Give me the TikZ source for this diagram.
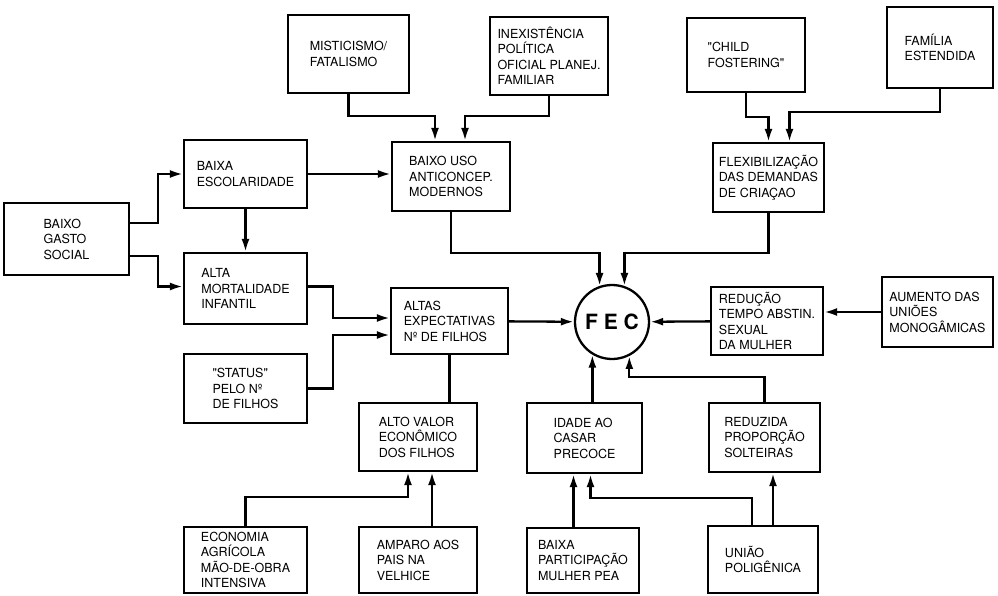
\documentclass[tikz,border=0pt]{standalone}
\usepackage{fontspec}
\setmainfont{TeX Gyre Heros}
\usepackage{tikz}
\usetikzlibrary{arrows.meta,%
                shapes,positioning}
\tikzset{caixa/.style 2 args={draw,minimum width=#1,minimum height=#2,align=left,inner sep=4pt,
    font=\fontsize{12.5}{15.5}\selectfont},
  seta/.style={-{Latex[length=13pt,width=8pt]}}}

\begin{document}
\begin{tikzpicture}[x=1pt,y=-1pt,line width=2.3pt]
\useasboundingbox (0,0) rectangle (998,596);
% linha de cima
\node[caixa={121}{78}] (mistic) at (348.5,54) {MISTICISMO/\\FATALISMO};
\node[caixa={118}{78}] (inexist) at (549,56) {INEXISTÊNCIA\\POLÍTICA\\OFICIAL PLANEJ.\\FAMILIAR};
\node[caixa={118}{74}] (child) at (746,55) {\textquotedbl CHILD\\FOSTERING\textquotedbl};
\node[caixa={106}{81}] (familia) at (940,47.5) {FAMÍLIA\\ESTENDIDA};
\node[caixa={123}{68}] (baixaesc) at (245.5,174) {BAIXA\\ESCOLARIDADE};
\node[caixa={118}{69}] (baixouso) at (451,176.5) {BAIXO USO\\ANTICONCEP.\\MODERNOS};
\node[caixa={111}{69}] (flex) at (768.5,177.5) {FLEXIBILIZAÇÃO\\DAS DEMANDAS\\DE CRIAÇAO};
% meio
\node[caixa={125}{72}] (gasto) at (66.5,239) {BAIXO\\GASTO\\SOCIAL};
\node[caixa={123}{71}] (mort) at (245.5,288.5) {ALTA\\MORTALIDADE\\INFANTIL};
\node[caixa={117}{66}] (altas) at (449.5,321) {ALTAS\\EXPECTATIVAS\\Nº DE FILHOS};
\node[draw,circle,minimum size=74pt,font=\fontsize{21}{21}\selectfont\bfseries] (fec) at (612,322) {F E C};
\node[caixa={112}{68}] (reducao) at (767,321) {REDUÇÃO\\TEMPO ABSTIN.\\SEXUAL\\DA MULHER};
\node[caixa={111}{70}] (aumento) at (937.5,312) {AUMENTO DAS\\UNIÕES\\MONOGÂMICAS};
\node[caixa={123}{69}] (status) at (245.5,388.5) {\textquotedbl STATUS\textquotedbl\\PELO Nº\\DE FILHOS};
\node[caixa={118}{68}] (altovalor) at (418,437) {ALTO VALOR\\ECONÔMICO\\DOS FILHOS};
\node[caixa={115}{70}] (idade) at (584.5,438) {IDADE AO\\CASAR\\PRECOCE};
\node[caixa={111}{69}] (reduzida) at (764.5,437.5) {REDUZIDA\\PROPORÇÃO\\SOLTEIRAS};
% linha de baixo
\node[caixa={123}{66}] (economia) at (245.5,560) {ECONOMIA\\AGRÍCOLA\\MÃO-DE-OBRA\\INTENSIVA};
\node[caixa={118}{66}] (amparo) at (418,560) {AMPARO AOS\\PAIS NA\\VELHICE};
\node[caixa={112}{65}] (baixapart) at (583,560.5) {BAIXA\\PARTICIPAÇÃO\\MULHER PEA};
\node[caixa={110}{67}] (uniao) at (763,559.5) {UNIÃO\\POLIGÊNICA};
% setas
\draw[seta] (mistic.south) -- ++(0,22) -| ([xshift=-16pt]baixouso.north);
\draw[seta] (inexist.south) -- ++(0,20) -| ([xshift=14pt]baixouso.north);
\draw[seta] (child.south) -- ++(0,24) -| (flex.north);
\draw[seta] (familia.south) -- ++(0,23) -| ([xshift=21pt]flex.north);
\draw[seta] (baixaesc.east) -- (baixaesc.east -| baixouso.west);
\draw[seta] ([yshift=16pt]gasto.east) -- ++(28,0) |- (baixaesc.west);
\draw[seta] ([yshift=-17pt]gasto.east) -- ++(28,0) |- ([yshift=2pt]mort.west);
\draw[seta] (baixaesc) -- (mort);
\draw[seta] ([yshift=2pt]mort.east) -- ++(25,0) |- ([yshift=3pt]altas.west);
\draw[seta] (status.east) -- ++(25,0) |- ([yshift=-14pt]altas.west);
\draw (altas.south) -- (altas.south |- altovalor.north);
\draw[seta] (altas) -- (fec);
\draw[seta] (baixouso.south) -- ++(0,41) -| (fec.109);
\draw[seta] (flex.south) -- ++(0,40) -| (fec.71);
\draw[seta] (reducao) -- (fec);
\draw[seta] (aumento.west) -- (aumento.west -| reducao.east);
\draw[seta] (fec.239 |- idade.north) -- (fec.239);
\draw[seta] (reduzida.north) -- ++(0,-25) -| (fec.297);
\draw[seta] (economia.north) -- ++(0,-29) -| ([xshift=-10pt]altovalor.south);
\draw[seta] ([xshift=14pt]amparo.north) -- ([xshift=14pt]altovalor.south);
\draw[seta] ([xshift=-11pt]idade.south |- baixapart.north) -- ([xshift=-11pt]idade.south);
\draw[seta] ([xshift=-11pt]uniao.north) -- ++(0,-27) -| ([xshift=6pt]idade.south);
\draw[seta] ([xshift=10pt]uniao.north) -- ([xshift=10pt]uniao.north |- reduzida.south);
\end{tikzpicture}
\end{document}
